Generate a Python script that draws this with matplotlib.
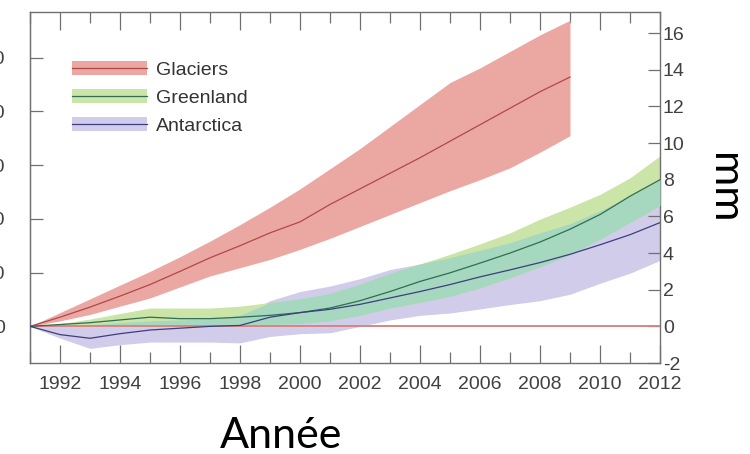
import numpy as np
import matplotlib
matplotlib.use("Agg")
import matplotlib.pyplot as plt
from matplotlib.patches import Patch
from matplotlib.lines import Line2D

# ---------------- data (mm sea-level equivalent) ----------------
years = [1991, 1992, 1993, 1994, 1995, 1996, 1997, 1998, 1999, 2000, 2001,
         2002, 2003, 2004, 2005, 2006, 2007, 2008, 2009, 2010, 2011, 2012]

glacier_years = years[:19]   # 1991-2009
glacier_mid = [0, 0.5, 1.05, 1.65, 2.28, 3.0, 3.74, 4.4, 5.1, 5.7, 6.65,
               7.5, 8.35, 9.2, 10.1, 11.0, 11.9, 12.8, 13.6]
glacier_hi = [0, 0.75, 1.5, 2.25, 3.0, 3.8, 4.65, 5.55, 6.5, 7.5, 8.6,
              9.7, 10.9, 12.1, 13.3, 14.1, 15.0, 15.9, 16.7]
glacier_lo = [0, 0.3, 0.65, 1.1, 1.55, 2.15, 2.75, 3.2, 3.65, 4.2, 4.8,
              5.45, 6.1, 6.75, 7.4, 8.0, 8.65, 9.5, 10.4]

green_mid = [0, 0.1, 0.2, 0.35, 0.5, 0.42, 0.42, 0.5, 0.6, 0.75, 1.0,
             1.4, 1.9, 2.45, 2.92, 3.45, 4.0, 4.6, 5.3, 6.1, 7.1, 8.0]
green_hi = [0, 0.15, 0.4, 0.7, 1.0, 1.0, 1.0, 1.1, 1.3, 1.5, 1.8,
            2.3, 2.9, 3.4, 3.93, 4.5, 5.1, 5.85, 6.5, 7.2, 8.1, 9.3]
green_lo = [0, 0.0, 0.0, 0.05, 0.05, 0.0, 0.0, 0.05, 0.1, 0.15, 0.3,
            0.6, 1.0, 1.3, 1.64, 2.1, 2.65, 3.25, 3.9, 4.75, 5.66, 6.6]

ant_mid = [0, -0.45, -0.65, -0.4, -0.2, -0.1, 0.0, 0.05, 0.5, 0.75, 0.93,
           1.2, 1.55, 1.9, 2.28, 2.7, 3.08, 3.48, 3.93, 4.45, 5.0, 5.66]
ant_hi = [0, 0.05, 0.1, 0.2, 0.3, 0.35, 0.4, 0.6, 1.4, 1.9, 2.2,
          2.6, 3.1, 3.4, 3.75, 4.15, 4.56, 5.1, 5.6, 6.3, 7.1, 8.0]
ant_lo = [0, -0.64, -1.2, -1.0, -0.86, -0.86, -0.86, -0.9, -0.55, -0.4, -0.35,
          0.0, 0.35, 0.6, 0.73, 0.95, 1.19, 1.4, 1.75, 2.35, 2.9, 3.6]

series_names = ["Glaciers", "Greenland", "Antarctica"]
x_ticks = [1992, 1994, 1996, 1998, 2000, 2002, 2004, 2006, 2008, 2010, 2012]
x_minor = [1991, 1993, 1995, 1997, 1999, 2001, 2003, 2005, 2007, 2009, 2011]
right_ticks = [-2, 0, 2, 4, 6, 8, 10, 12, 14, 16]
left_ticks_gt = [0, 1000, 2000, 3000, 4000, 5000]
GT_PER_MM = 341.0

# ---------------- style ----------------
c_glac_fill, c_glac_line = "#eba8a3", "#b04848"
c_green_fill, c_green_line = "#cbe4a8", "#2f6e50"
c_ant_fill, c_ant_line = "#d0cce9", "#3d3d80"
c_overlap = "#a6d7bf"
c_spine = "#707070"
c_text = "#404040"
tick_font = "Liberation Sans"

fig = plt.figure(figsize=(7.5, 4.54), dpi=100)
ax = fig.add_axes([0.04, 0.2004, 0.84, 0.7732])

yr = np.array(years, dtype=float)
ax.fill_between(yr, ant_lo, ant_hi, color=c_ant_fill, lw=0, zorder=1)
ax.fill_between(yr, green_lo, green_hi, color=c_green_fill, lw=0, zorder=2)
ov_lo = np.maximum(green_lo, ant_lo)
ov_hi = np.minimum(green_hi, ant_hi)
ax.fill_between(yr, ov_lo, ov_hi, where=ov_hi > ov_lo, interpolate=True,
                color=c_overlap, lw=0, zorder=3)
ax.fill_between(glacier_years, glacier_lo, glacier_hi, color=c_glac_fill, lw=0, zorder=3)

ax.axhline(0, color="#d88585", lw=1.4, zorder=4)
ax.plot(glacier_years, glacier_mid, color=c_glac_line, lw=0.9, zorder=5)
ax.plot(yr, green_mid, color=c_green_line, lw=0.9, zorder=5)
ax.plot(yr, ant_mid, color=c_ant_line, lw=0.9, zorder=5)

ax.set_xlim(1991, 2012)
ax.set_ylim(-2, 17.15)

for s in ax.spines.values():
    s.set_color(c_spine)
    s.set_linewidth(1.0)

ax.set_xticks(x_ticks)
ax.set_xticks(x_minor, minor=True)
ax.set_xticklabels([str(t) for t in x_ticks])
ax.tick_params(axis="x", which="major", direction="in", top=True, bottom=True,
               length=13, width=0.9, color=c_spine, labelsize=14,
               labelcolor=c_text, pad=9)
ax.tick_params(axis="x", which="minor", direction="in", top=True, bottom=True,
               length=8, width=0.9, color=c_spine)

ax.yaxis.tick_right()
ax.set_yticks(right_ticks)
ax.set_yticklabels([str(t) for t in right_ticks])
ax.tick_params(axis="y", which="major", direction="in", left=False, right=True,
               length=9, width=0.9, color=c_spine, labelsize=14,
               labelcolor=c_text, pad=2)

sec = ax.secondary_yaxis("left", functions=(lambda m: m * GT_PER_MM,
                                             lambda g: g / GT_PER_MM))
sec.set_yticks(left_ticks_gt)
sec.set_yticklabels([str(t) for t in left_ticks_gt])
sec.tick_params(axis="y", direction="in", length=9, width=0.9, color=c_spine,
                labelsize=14, labelcolor=c_text, pad=18)
sec.spines["left"].set_color(c_spine)

for lab in ax.get_xticklabels() + ax.get_yticklabels() + sec.get_yticklabels():
    lab.set_fontfamily(tick_font)

handles = [
    (Patch(facecolor=c_glac_fill, edgecolor="none"), Line2D([], [], color=c_glac_line, lw=0.9)),
    (Patch(facecolor=c_green_fill, edgecolor="none"), Line2D([], [], color=c_green_line, lw=0.9)),
    (Patch(facecolor=c_ant_fill, edgecolor="none"), Line2D([], [], color=c_ant_line, lw=0.9)),
]
leg = ax.legend(handles, series_names, loc="center left",
                bbox_to_anchor=(0.066, 0.755), frameon=False,
                prop={"family": tick_font, "size": 14},
                handlelength=3.9, handleheight=0.7, handletextpad=0.45,
                labelspacing=0.53, borderpad=0, borderaxespad=0)
for t in leg.get_texts():
    t.set_color("#333333")

fig.text(281 / 750, 1 - 436 / 454, "Année", ha="center", va="center",
         fontsize=31, family="Lato", color="black")
fig.text(724 / 750, 1 - 188 / 454, "mm", ha="center", va="center",
         rotation=270, fontsize=31, family="Lato", color="black")

fig.savefig("out.png", dpi=100)
